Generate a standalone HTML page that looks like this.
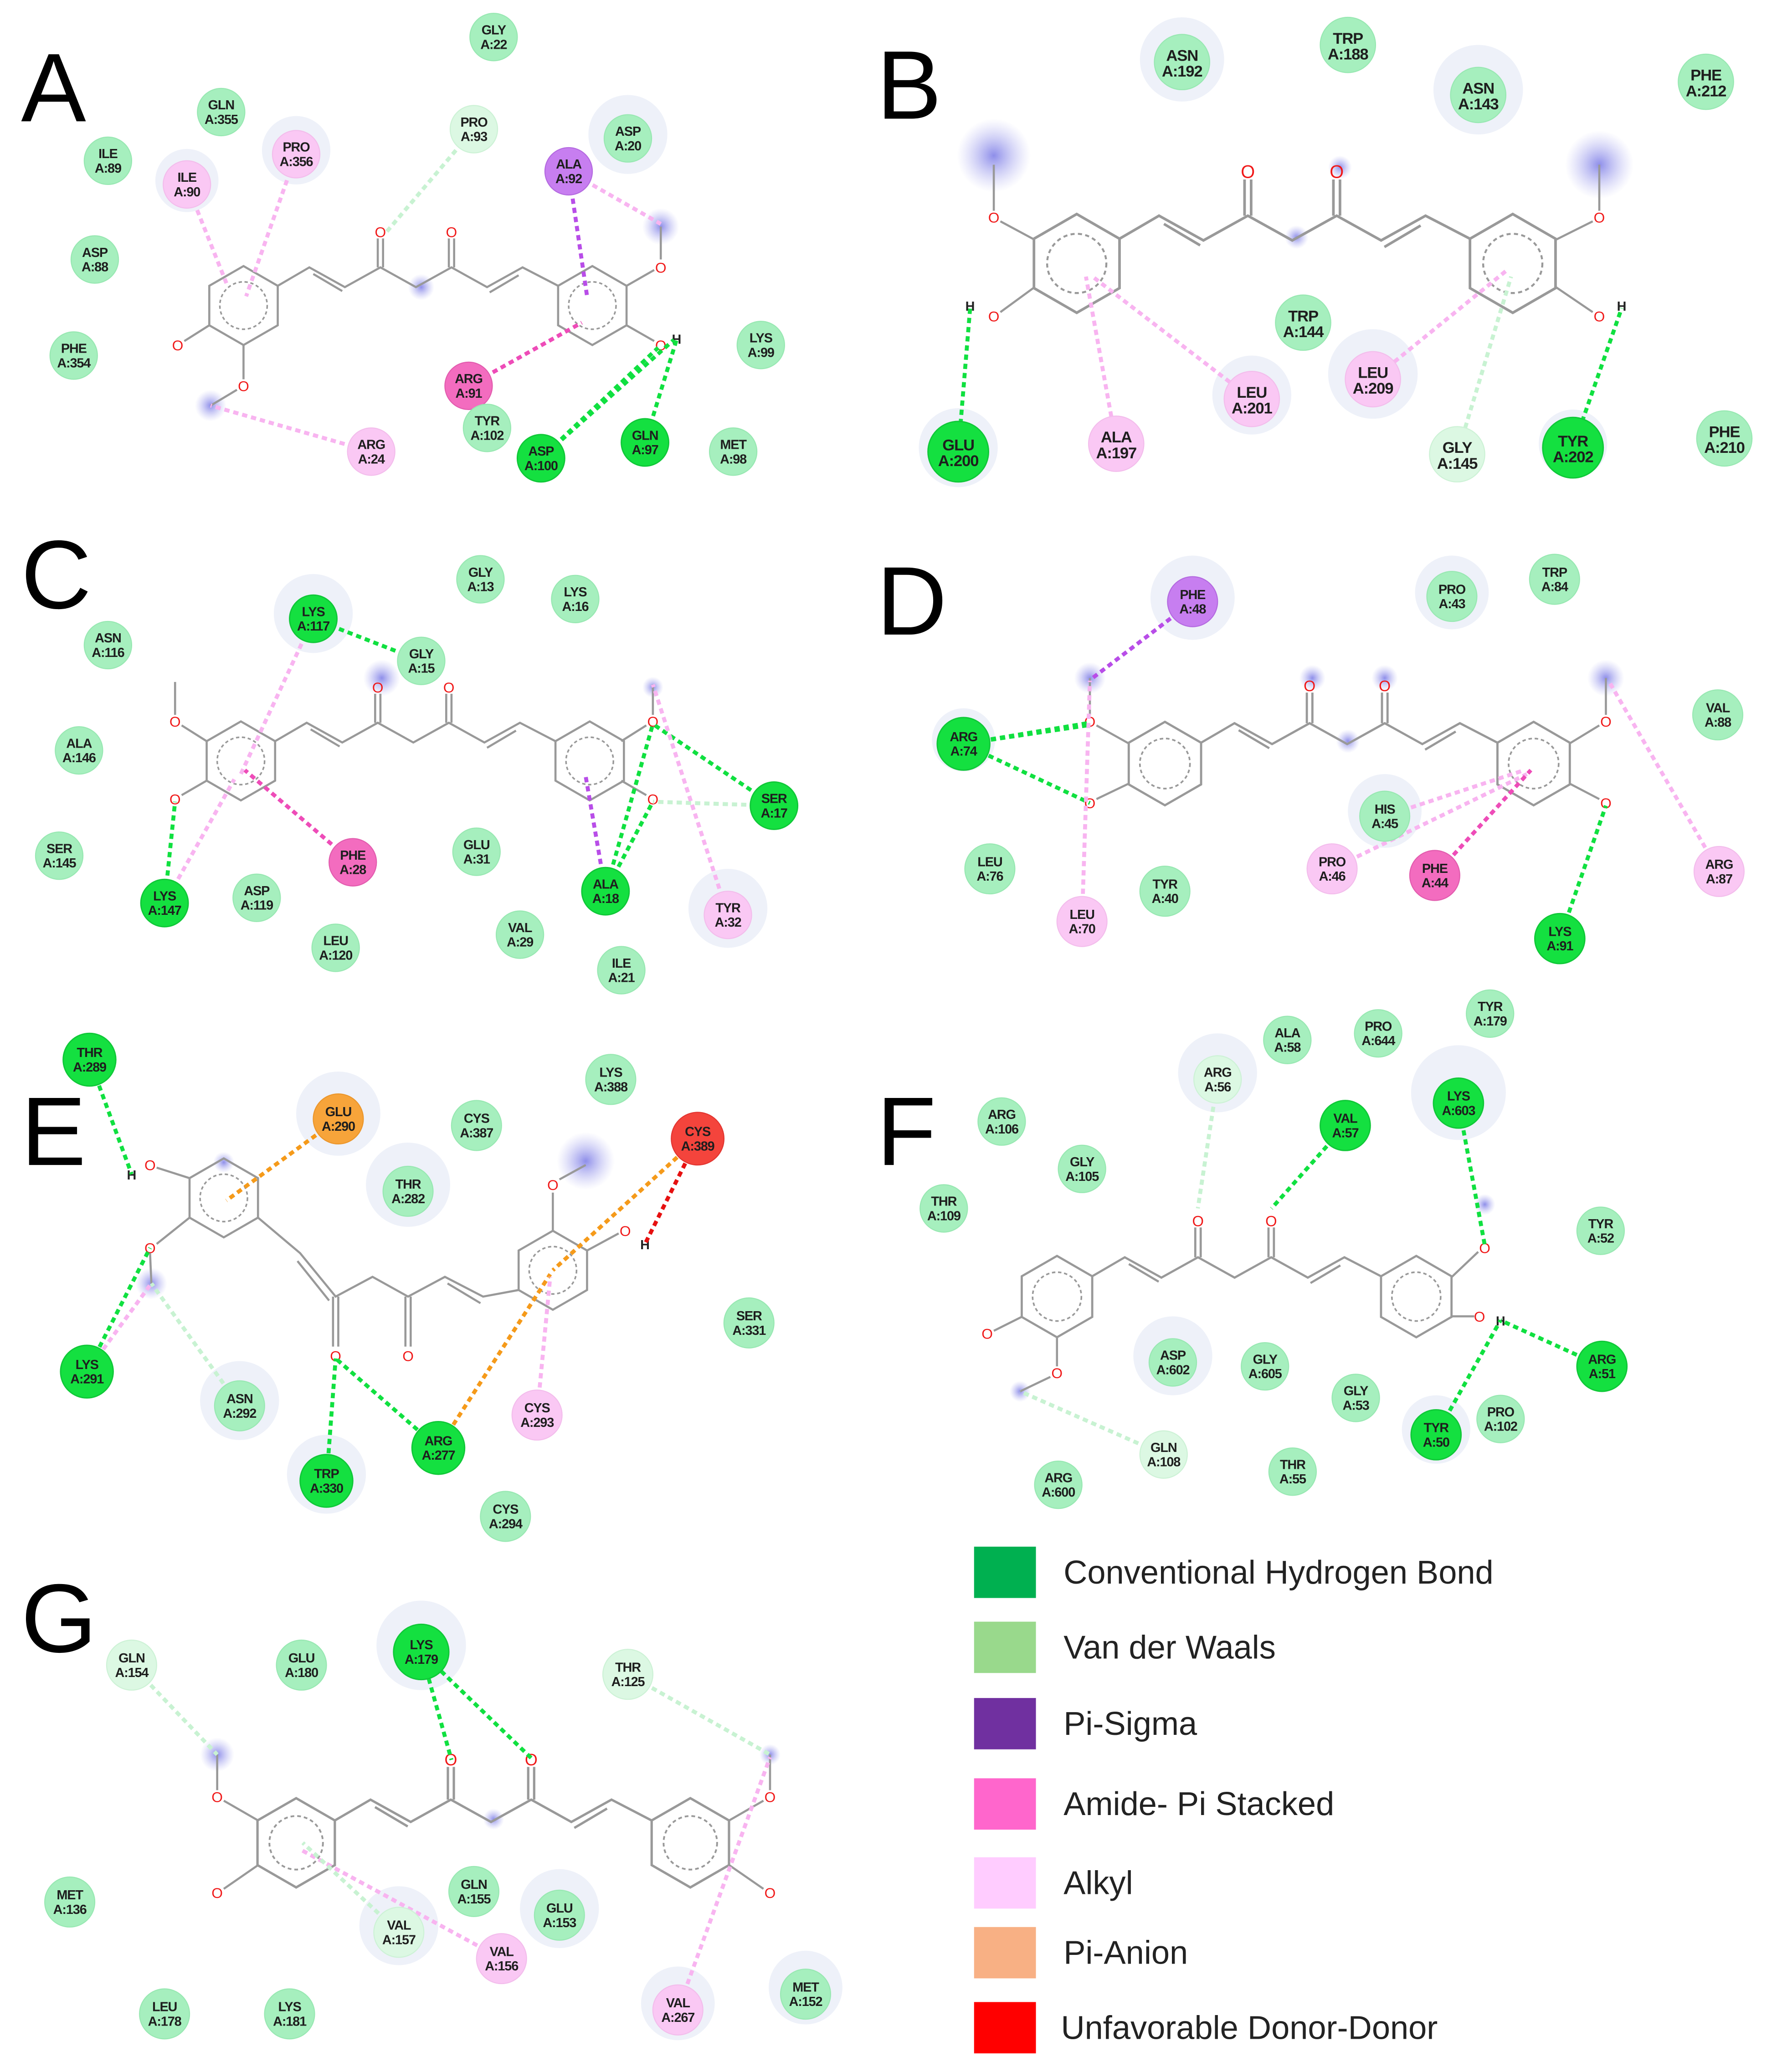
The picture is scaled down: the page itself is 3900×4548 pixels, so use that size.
<!DOCTYPE html>
<html><head><meta charset="utf-8"><style>
html,body{margin:0;padding:0;background:#fff}
svg{display:block}
text{font-family:"Liberation Sans",sans-serif}
.r text{font-size:10px;text-anchor:middle;fill:#1e1e1e;font-weight:bold;letter-spacing:-0.4px}
.r circle{stroke-width:0.8}
.v circle{fill:#a6efbe;stroke:#98e8b2}
.h circle{fill:#14e040;stroke:#10c838;stroke-width:1}
.c circle{fill:#dcf8e3;stroke:#cdf2d6}
.a circle{fill:#fac8f4;stroke:#f3bdec}
.s circle{fill:#c77ef0;stroke:#b46ae0}
.m circle{fill:#f36cbf;stroke:#e25cae}
.o circle{fill:#f7a43a;stroke:#eb962b}
.u circle{fill:#f4443c;stroke:#e23530}
.b{stroke:#999;stroke-width:1.6;fill:none}
.ox{font-size:11px;fill:#f01818;text-anchor:middle}
.hx{font-size:10px;fill:#222;text-anchor:middle;font-weight:bold}
.L{fill:none;stroke-width:3;stroke-dasharray:4 3}
.g{stroke:#10e040}.lg{stroke:#c8f2d2}.pk{stroke:#f8b4f0}.pu{stroke:#b84de8}.mg{stroke:#ee4cb8}.or{stroke:#f59a1a}.rd{stroke:#e61010}
.halo{fill:#eef1f9}
.P{font-size:74px;fill:#000}
.lt{font-size:25px;fill:#222}
</style></head><body>
<svg width="3900" height="4548" viewBox="0 0 1350 1574" xmlns="http://www.w3.org/2000/svg">
<defs>
<radialGradient id="gl"><stop offset="0" stop-color="#7a7ae6" stop-opacity="0.85"/><stop offset="1" stop-color="#b0b0f0" stop-opacity="0"/></radialGradient>
<g id="core">
<polygon class="b" points="0,-30 26,-15 26,15 0,30 -26,15 -26,-15"/>
<circle r="18" fill="none" stroke="#999" stroke-width="1.2" stroke-dasharray="2.5 2"/>
<polyline class="b" points="26,-15 50,-29 77,-14 104,-29 131,-14 158,-29 185,-14 212,-29 239,-15"/>
<line class="b" x1="53" y1="-24" x2="75" y2="-11"/>
<line class="b" x1="187" y1="-10" x2="209" y2="-23"/>
<line class="b" x1="102" y1="-29" x2="102" y2="-51"/><line class="b" x1="106" y1="-29" x2="106" y2="-51"/>
<line class="b" x1="156" y1="-29" x2="156" y2="-51"/><line class="b" x1="160" y1="-29" x2="160" y2="-51"/>
<text class="ox" x="104" y="-52">O</text><text class="ox" x="158" y="-52">O</text>
<polygon class="b" points="265,-30 291,-15 291,15 265,30 239,15 239,-15"/>
<circle cx="265" r="18" fill="none" stroke="#999" stroke-width="1.2" stroke-dasharray="2.5 2"/>
</g>
</defs>
<rect width="1350" height="1574" fill="#fff"/>

<g fill="url(#gl)">
<circle cx="320" cy="218" r="10"/><circle cx="160" cy="308" r="12"/><circle cx="502" cy="172" r="14"/>
<circle cx="755" cy="118" r="28"/><circle cx="985" cy="180" r="9"/><circle cx="1215" cy="125" r="26"/><circle cx="1018" cy="127" r="9"/>
<circle cx="290" cy="515" r="14"/><circle cx="496" cy="522" r="8"/>
<circle cx="828" cy="515" r="12"/><circle cx="997" cy="515" r="10"/><circle cx="1052" cy="515" r="10"/><circle cx="1024" cy="563" r="9"/><circle cx="1220" cy="515" r="14"/>
<circle cx="445" cy="882" r="22"/><circle cx="115" cy="975" r="12"/><circle cx="170" cy="883" r="8"/>
<circle cx="1128" cy="915" r="8"/><circle cx="775" cy="1057" r="8"/>
<circle cx="165" cy="1333" r="13"/><circle cx="375" cy="1382" r="8"/><circle cx="585" cy="1333" r="8"/>
</g>

<g class="halo">
<circle cx="477" cy="102" r="30"/><circle cx="225" cy="114" r="26"/><circle cx="142" cy="137" r="24"/>
<circle cx="898" cy="45" r="32"/><circle cx="1123" cy="68" r="34"/><circle cx="1043" cy="284" r="34"/><circle cx="951" cy="300" r="30"/><circle cx="728" cy="340" r="30"/><circle cx="1195" cy="337" r="26"/>
<circle cx="238" cy="466" r="30"/><circle cx="553" cy="690" r="30"/>
<circle cx="906" cy="454" r="32"/><circle cx="1103" cy="450" r="28"/><circle cx="1052" cy="616" r="28"/><circle cx="732" cy="562" r="24"/>
<circle cx="257" cy="846" r="32"/><circle cx="310" cy="900" r="32"/><circle cx="182" cy="1064" r="30"/><circle cx="248" cy="1120" r="30"/>
<circle cx="925" cy="815" r="30"/><circle cx="1108" cy="830" r="36"/><circle cx="891" cy="1030" r="30"/><circle cx="1091" cy="1086" r="26"/>
<circle cx="320" cy="1250" r="34"/><circle cx="425" cy="1450" r="30"/><circle cx="303" cy="1463" r="30"/><circle cx="612" cy="1510" r="28"/><circle cx="515" cy="1522" r="28"/>
</g>

<use href="#core" transform="translate(185,232)"/>
<use href="#core" transform="translate(818,200) scale(1.25)"/>
<use href="#core" transform="translate(183,578)"/>
<use href="#core" transform="translate(885,580) scale(1.057)"/>
<use href="#core" transform="translate(803,985) scale(1.03)"/>
<use href="#core" transform="translate(225,1400) scale(1.13)"/>

<g class="b">
<line x1="159" y1="247" x2="140" y2="259"/><line x1="185" y1="262" x2="185" y2="288"/><line x1="180" y1="296" x2="160" y2="308"/>
<line x1="476" y1="217" x2="497" y2="205"/><line x1="502" y1="197" x2="502" y2="172"/><line x1="476" y1="247" x2="497" y2="259"/>
<line x1="786" y1="182" x2="760" y2="168"/><line x1="755" y1="160" x2="755" y2="125"/><line x1="786" y1="218" x2="760" y2="237"/>
<line x1="1182" y1="182" x2="1210" y2="168"/><line x1="1215" y1="160" x2="1215" y2="125"/><line x1="1182" y1="218" x2="1210" y2="237"/>
<line x1="157" y1="563" x2="138" y2="551"/><line x1="133" y1="543" x2="133" y2="518"/><line x1="157" y1="593" x2="138" y2="604"/>
<line x1="472" y1="563" x2="491" y2="551"/><line x1="496" y1="543" x2="496" y2="520"/><line x1="472" y1="593" x2="491" y2="604"/>
<line x1="858" y1="565" x2="833" y2="551"/><line x1="828" y1="543" x2="828" y2="515"/><line x1="858" y1="595" x2="833" y2="607"/>
<line x1="1192" y1="565" x2="1215" y2="551"/><line x1="1220" y1="543" x2="1220" y2="515"/><line x1="1192" y1="595" x2="1215" y2="607"/>
<polygon points="170,880 196,895 196,925 170,940 144,925 144,895"/>
<polygon points="420,935 446,950 446,980 420,995 394,980 394,950"/>
<polyline points="196,925 228,952 255,985 283,970 310,985 338,970 367,985 394,980"/>
<line x1="226" y1="958" x2="250" y2="988"/>
<line x1="253" y1="985" x2="253" y2="1023"/><line x1="257" y1="985" x2="257" y2="1023"/>
<line x1="308" y1="985" x2="308" y2="1023"/><line x1="312" y1="985" x2="312" y2="1023"/>
<line x1="340" y1="975" x2="365" y2="990"/>
<line x1="144" y1="895" x2="119" y2="887"/><line x1="144" y1="925" x2="119" y2="945"/><line x1="114" y1="952" x2="115" y2="975"/>
<line x1="420" y1="935" x2="420" y2="906"/><line x1="425" y1="896" x2="445" y2="885"/><line x1="446" y1="950" x2="470" y2="937"/>
<line x1="777" y1="1000" x2="755" y2="1011"/><line x1="803" y1="1015" x2="803" y2="1038"/><line x1="798" y1="1046" x2="775" y2="1057"/>
<line x1="1103" y1="970" x2="1123" y2="951"/><line x1="1103" y1="1000" x2="1120" y2="1000"/>
<line x1="196" y1="1383" x2="170" y2="1368"/><line x1="165" y1="1360" x2="165" y2="1333"/><line x1="196" y1="1417" x2="170" y2="1435"/>
<line x1="554" y1="1383" x2="580" y2="1368"/><line x1="585" y1="1360" x2="585" y2="1333"/><line x1="554" y1="1417" x2="580" y2="1435"/>
</g>
<g fill="none" stroke="#999" stroke-width="1.2" stroke-dasharray="2.5 2"><circle cx="170" cy="910" r="18"/><circle cx="420" cy="965" r="18"/></g>
<g class="ox">
<text x="135" y="266">O</text><text x="185" y="297">O</text><text x="502" y="207">O</text><text x="502" y="266">O</text>
<text x="755" y="169">O</text><text x="755" y="244">O</text><text x="1215" y="169">O</text><text x="1215" y="244">O</text>
<text x="133" y="552">O</text><text x="133" y="611">O</text><text x="496" y="552">O</text><text x="496" y="611">O</text>
<text x="828" y="552">O</text><text x="828" y="614">O</text><text x="1220" y="552">O</text><text x="1220" y="614">O</text>
<text x="114" y="889">O</text><text x="114" y="952">O</text><text x="255" y="1034">O</text><text x="310" y="1034">O</text><text x="420" y="904">O</text><text x="475" y="939">O</text>
<text x="750" y="1017">O</text><text x="803" y="1047">O</text><text x="1128" y="952">O</text><text x="1124" y="1004">O</text>
<text x="165" y="1369">O</text><text x="165" y="1442">O</text><text x="585" y="1369">O</text><text x="585" y="1442">O</text>
</g>
<g class="hx"><text x="514" y="261">H</text><text x="737" y="236">H</text><text x="1232" y="236">H</text><text x="100" y="896">H</text><text x="490" y="949">H</text><text x="1140" y="1007">H</text></g>

<g class="L">
<line class="lg" x1="360" y1="98" x2="292" y2="178"/>
<line class="pk" x1="142" y1="140" x2="172" y2="215"/><line class="pk" x1="225" y1="117" x2="187" y2="225"/>
<line class="pk" x1="282" y1="343" x2="160" y2="308"/><line class="pk" x1="432" y1="130" x2="502" y2="170"/>
<line class="pu" x1="432" y1="130" x2="446" y2="225"/><line class="mg" x1="356" y1="293" x2="442" y2="245"/>
<line class="g" x1="411" y1="348" x2="512" y2="258"/><line class="g" x1="490" y1="336" x2="514" y2="258"/><line class="g" x1="411" y1="348" x2="500" y2="264"/>
<line class="g" x1="728" y1="343" x2="737" y2="234"/><line class="g" x1="1195" y1="340" x2="1232" y2="234"/>
<line class="pk" x1="848" y1="337" x2="825" y2="210"/><line class="pk" x1="951" y1="303" x2="830" y2="210"/>
<line class="pk" x1="1043" y1="288" x2="1145" y2="205"/><line class="lg" x1="1107" y1="345" x2="1148" y2="210"/>
<line class="g" x1="238" y1="470" x2="320" y2="502"/><line class="pk" x1="238" y1="470" x2="182" y2="590"/>
<line class="g" x1="125" y1="686" x2="133" y2="609"/><line class="pk" x1="125" y1="686" x2="178" y2="592"/>
<line class="mg" x1="268" y1="655" x2="186" y2="585"/><line class="pu" x1="460" y1="677" x2="445" y2="590"/>
<line class="g" x1="460" y1="677" x2="496" y2="550"/><line class="g" x1="460" y1="677" x2="496" y2="609"/>
<line class="g" x1="588" y1="612" x2="496" y2="550"/><line class="lg" x1="588" y1="612" x2="496" y2="609"/>
<line class="pk" x1="553" y1="695" x2="496" y2="520"/>
<line class="pu" x1="906" y1="457" x2="830" y2="515"/>
<line class="g" x1="732" y1="565" x2="828" y2="549"/><line class="g" x1="732" y1="565" x2="828" y2="610"/><line class="g" x1="732" y1="565" x2="826" y2="551"/>
<line class="pk" x1="822" y1="700" x2="828" y2="517"/>
<line class="pk" x1="1012" y1="660" x2="1160" y2="588"/><line class="mg" x1="1090" y1="665" x2="1163" y2="585"/><line class="pk" x1="1052" y1="620" x2="1158" y2="585"/>
<line class="pk" x1="1306" y1="662" x2="1222" y2="517"/><line class="g" x1="1185" y1="713" x2="1220" y2="612"/>
<line class="g" x1="68" y1="805" x2="100" y2="892"/><line class="or" x1="257" y1="850" x2="172" y2="912"/>
<line class="g" x1="66" y1="1042" x2="114" y2="948"/><line class="pk" x1="66" y1="1042" x2="115" y2="975"/>
<line class="lg" x1="182" y1="1068" x2="115" y2="975"/>
<line class="rd" x1="530" y1="865" x2="490" y2="945"/><line class="or" x1="530" y1="865" x2="420" y2="965"/>
<line class="or" x1="333" y1="1100" x2="418" y2="968"/>
<line class="g" x1="248" y1="1125" x2="255" y2="1032"/><line class="g" x1="333" y1="1100" x2="255" y2="1032"/>
<line class="pk" x1="408" y1="1075" x2="418" y2="970"/>
<line class="lg" x1="925" y1="820" x2="910" y2="918"/><line class="g" x1="1022" y1="855" x2="966" y2="918"/>
<line class="g" x1="1108" y1="838" x2="1128" y2="946"/>
<line class="g" x1="1217" y1="1038" x2="1140" y2="1003"/><line class="g" x1="1091" y1="1090" x2="1140" y2="1003"/>
<line class="lg" x1="884" y1="1105" x2="775" y2="1057"/>
<line class="lg" x1="100" y1="1265" x2="165" y2="1333"/>
<line class="g" x1="320" y1="1255" x2="343" y2="1337"/><line class="g" x1="320" y1="1255" x2="405" y2="1337"/>
<line class="lg" x1="477" y1="1272" x2="585" y2="1333"/><line class="pk" x1="515" y1="1527" x2="585" y2="1335"/>
<line class="pk" x1="381" y1="1488" x2="228" y2="1405"/><line class="lg" x1="303" y1="1468" x2="230" y2="1400"/>
</g>

<g class="r v" transform="translate(375,28)"><circle r="18"/><text y="-2">GLY</text><text y="9">A:22</text></g>
<g class="r v" transform="translate(168,85)"><circle r="18"/><text y="-2">GLN</text><text y="9">A:355</text></g>
<g class="r c" transform="translate(360,98)"><circle r="18"/><text y="-2">PRO</text><text y="9">A:93</text></g>
<g class="r v" transform="translate(477,105)"><circle r="18"/><text y="-2">ASP</text><text y="9">A:20</text></g>
<g class="r v" transform="translate(82,122)"><circle r="18"/><text y="-2">ILE</text><text y="9">A:89</text></g>
<g class="r a" transform="translate(225,117)"><circle r="18"/><text y="-2">PRO</text><text y="9">A:356</text></g>
<g class="r a" transform="translate(142,140)"><circle r="18"/><text y="-2">ILE</text><text y="9">A:90</text></g>
<g class="r s" transform="translate(432,130)"><circle r="18"/><text y="-2">ALA</text><text y="9">A:92</text></g>
<g class="r v" transform="translate(72,197)"><circle r="18"/><text y="-2">ASP</text><text y="9">A:88</text></g>
<g class="r v" transform="translate(56,270)"><circle r="18"/><text y="-2">PHE</text><text y="9">A:354</text></g>
<g class="r v" transform="translate(578,262)"><circle r="18"/><text y="-2">LYS</text><text y="9">A:99</text></g>
<g class="r m" transform="translate(356,293)"><circle r="18"/><text y="-2">ARG</text><text y="9">A:91</text></g>
<g class="r v" transform="translate(370,325)"><circle r="18"/><text y="-2">TYR</text><text y="9">A:102</text></g>
<g class="r a" transform="translate(282,343)"><circle r="18"/><text y="-2">ARG</text><text y="9">A:24</text></g>
<g class="r h" transform="translate(411,348)"><circle r="18"/><text y="-2">ASP</text><text y="9">A:100</text></g>
<g class="r h" transform="translate(490,336)"><circle r="18"/><text y="-2">GLN</text><text y="9">A:97</text></g>
<g class="r v" transform="translate(557,343)"><circle r="18"/><text y="-2">MET</text><text y="9">A:98</text></g>

<g class="r v" transform="translate(898,47)"><circle r="21"/><text y="-1" style="font-size:12px">ASN</text><text y="11" style="font-size:12px">A:192</text></g>
<g class="r v" transform="translate(1024,34)"><circle r="21"/><text y="-1" style="font-size:12px">TRP</text><text y="11" style="font-size:12px">A:188</text></g>
<g class="r v" transform="translate(1123,72)"><circle r="21"/><text y="-1" style="font-size:12px">ASN</text><text y="11" style="font-size:12px">A:143</text></g>
<g class="r v" transform="translate(1296,62)"><circle r="21"/><text y="-1" style="font-size:12px">PHE</text><text y="11" style="font-size:12px">A:212</text></g>
<g class="r v" transform="translate(990,245)"><circle r="21"/><text y="-1" style="font-size:12px">TRP</text><text y="11" style="font-size:12px">A:144</text></g>
<g class="r a" transform="translate(1043,288)"><circle r="21"/><text y="-1" style="font-size:12px">LEU</text><text y="11" style="font-size:12px">A:209</text></g>
<g class="r a" transform="translate(951,303)"><circle r="21"/><text y="-1" style="font-size:12px">LEU</text><text y="11" style="font-size:12px">A:201</text></g>
<g class="r a" transform="translate(848,337)"><circle r="21"/><text y="-1" style="font-size:12px">ALA</text><text y="11" style="font-size:12px">A:197</text></g>
<g class="r h" transform="translate(728,343)"><circle r="23"/><text y="-1" style="font-size:12px">GLU</text><text y="11" style="font-size:12px">A:200</text></g>
<g class="r c" transform="translate(1107,345)"><circle r="21"/><text y="-1" style="font-size:12px">GLY</text><text y="11" style="font-size:12px">A:145</text></g>
<g class="r h" transform="translate(1195,340)"><circle r="23"/><text y="-1" style="font-size:12px">TYR</text><text y="11" style="font-size:12px">A:202</text></g>
<g class="r v" transform="translate(1310,333)"><circle r="21"/><text y="-1" style="font-size:12px">PHE</text><text y="11" style="font-size:12px">A:210</text></g>

<g class="r v" transform="translate(365,440)"><circle r="18"/><text y="-2">GLY</text><text y="9">A:13</text></g>
<g class="r h" transform="translate(238,470)"><circle r="18"/><text y="-2">LYS</text><text y="9">A:117</text></g>
<g class="r v" transform="translate(437,455)"><circle r="18"/><text y="-2">LYS</text><text y="9">A:16</text></g>
<g class="r v" transform="translate(82,490)"><circle r="18"/><text y="-2">ASN</text><text y="9">A:116</text></g>
<g class="r v" transform="translate(320,502)"><circle r="18"/><text y="-2">GLY</text><text y="9">A:15</text></g>
<g class="r v" transform="translate(60,570)"><circle r="18"/><text y="-2">ALA</text><text y="9">A:146</text></g>
<g class="r h" transform="translate(588,612)"><circle r="18"/><text y="-2">SER</text><text y="9">A:17</text></g>
<g class="r v" transform="translate(45,650)"><circle r="18"/><text y="-2">SER</text><text y="9">A:145</text></g>
<g class="r v" transform="translate(362,647)"><circle r="18"/><text y="-2">GLU</text><text y="9">A:31</text></g>
<g class="r m" transform="translate(268,655)"><circle r="18"/><text y="-2">PHE</text><text y="9">A:28</text></g>
<g class="r v" transform="translate(195,682)"><circle r="18"/><text y="-2">ASP</text><text y="9">A:119</text></g>
<g class="r h" transform="translate(125,686)"><circle r="18"/><text y="-2">LYS</text><text y="9">A:147</text></g>
<g class="r h" transform="translate(460,677)"><circle r="18"/><text y="-2">ALA</text><text y="9">A:18</text></g>
<g class="r a" transform="translate(553,695)"><circle r="18"/><text y="-2">TYR</text><text y="9">A:32</text></g>
<g class="r v" transform="translate(395,710)"><circle r="18"/><text y="-2">VAL</text><text y="9">A:29</text></g>
<g class="r v" transform="translate(255,720)"><circle r="18"/><text y="-2">LEU</text><text y="9">A:120</text></g>
<g class="r v" transform="translate(472,737)"><circle r="18"/><text y="-2">ILE</text><text y="9">A:21</text></g>

<g class="r s" transform="translate(906,457)"><circle r="19"/><text y="-2">PHE</text><text y="9">A:48</text></g>
<g class="r v" transform="translate(1103,453)"><circle r="19"/><text y="-2">PRO</text><text y="9">A:43</text></g>
<g class="r v" transform="translate(1181,440)"><circle r="19"/><text y="-2">TRP</text><text y="9">A:84</text></g>
<g class="r v" transform="translate(1305,543)"><circle r="19"/><text y="-2">VAL</text><text y="9">A:88</text></g>
<g class="r h" transform="translate(732,565)"><circle r="20"/><text y="-2">ARG</text><text y="9">A:74</text></g>
<g class="r v" transform="translate(1052,620)"><circle r="19"/><text y="-2">HIS</text><text y="9">A:45</text></g>
<g class="r v" transform="translate(752,660)"><circle r="19"/><text y="-2">LEU</text><text y="9">A:76</text></g>
<g class="r a" transform="translate(1012,660)"><circle r="19"/><text y="-2">PRO</text><text y="9">A:46</text></g>
<g class="r m" transform="translate(1090,665)"><circle r="19"/><text y="-2">PHE</text><text y="9">A:44</text></g>
<g class="r v" transform="translate(885,677)"><circle r="19"/><text y="-2">TYR</text><text y="9">A:40</text></g>
<g class="r a" transform="translate(1306,662)"><circle r="19"/><text y="-2">ARG</text><text y="9">A:87</text></g>
<g class="r a" transform="translate(822,700)"><circle r="19"/><text y="-2">LEU</text><text y="9">A:70</text></g>
<g class="r h" transform="translate(1185,713)"><circle r="19"/><text y="-2">LYS</text><text y="9">A:91</text></g>

<g class="r h" transform="translate(68,805)"><circle r="20"/><text y="-2">THR</text><text y="9">A:289</text></g>
<g class="r o" transform="translate(257,850)"><circle r="19"/><text y="-2">GLU</text><text y="9">A:290</text></g>
<g class="r v" transform="translate(362,855)"><circle r="19"/><text y="-2">CYS</text><text y="9">A:387</text></g>
<g class="r v" transform="translate(464,820)"><circle r="19"/><text y="-2">LYS</text><text y="9">A:388</text></g>
<g class="r u" transform="translate(530,865)"><circle r="20"/><text y="-2">CYS</text><text y="9">A:389</text></g>
<g class="r v" transform="translate(310,905)"><circle r="19"/><text y="-2">THR</text><text y="9">A:282</text></g>
<g class="r v" transform="translate(569,1005)"><circle r="19"/><text y="-2">SER</text><text y="9">A:331</text></g>
<g class="r h" transform="translate(66,1042)"><circle r="20"/><text y="-2">LYS</text><text y="9">A:291</text></g>
<g class="r v" transform="translate(182,1068)"><circle r="19"/><text y="-2">ASN</text><text y="9">A:292</text></g>
<g class="r a" transform="translate(408,1075)"><circle r="19"/><text y="-2">CYS</text><text y="9">A:293</text></g>
<g class="r h" transform="translate(333,1100)"><circle r="20"/><text y="-2">ARG</text><text y="9">A:277</text></g>
<g class="r h" transform="translate(248,1125)"><circle r="20"/><text y="-2">TRP</text><text y="9">A:330</text></g>
<g class="r v" transform="translate(384,1152)"><circle r="19"/><text y="-2">CYS</text><text y="9">A:294</text></g>

<g class="r v" transform="translate(978,790)"><circle r="18"/><text y="-2">ALA</text><text y="9">A:58</text></g>
<g class="r v" transform="translate(1047,785)"><circle r="18"/><text y="-2">PRO</text><text y="9">A:644</text></g>
<g class="r v" transform="translate(1132,770)"><circle r="18"/><text y="-2">TYR</text><text y="9">A:179</text></g>
<g class="r c" transform="translate(925,820)"><circle r="18"/><text y="-2">ARG</text><text y="9">A:56</text></g>
<g class="r h" transform="translate(1108,838)"><circle r="19"/><text y="-2">LYS</text><text y="9">A:603</text></g>
<g class="r v" transform="translate(761,852)"><circle r="18"/><text y="-2">ARG</text><text y="9">A:106</text></g>
<g class="r h" transform="translate(1022,855)"><circle r="19"/><text y="-2">VAL</text><text y="9">A:57</text></g>
<g class="r v" transform="translate(822,888)"><circle r="18"/><text y="-2">GLY</text><text y="9">A:105</text></g>
<g class="r v" transform="translate(717,918)"><circle r="18"/><text y="-2">THR</text><text y="9">A:109</text></g>
<g class="r v" transform="translate(1216,935)"><circle r="18"/><text y="-2">TYR</text><text y="9">A:52</text></g>
<g class="r v" transform="translate(891,1035)"><circle r="18"/><text y="-2">ASP</text><text y="9">A:602</text></g>
<g class="r v" transform="translate(961,1038)"><circle r="18"/><text y="-2">GLY</text><text y="9">A:605</text></g>
<g class="r h" transform="translate(1217,1038)"><circle r="19"/><text y="-2">ARG</text><text y="9">A:51</text></g>
<g class="r v" transform="translate(1030,1062)"><circle r="18"/><text y="-2">GLY</text><text y="9">A:53</text></g>
<g class="r v" transform="translate(1140,1078)"><circle r="18"/><text y="-2">PRO</text><text y="9">A:102</text></g>
<g class="r c" transform="translate(884,1105)"><circle r="18"/><text y="-2">GLN</text><text y="9">A:108</text></g>
<g class="r h" transform="translate(1091,1090)"><circle r="19"/><text y="-2">TYR</text><text y="9">A:50</text></g>
<g class="r v" transform="translate(982,1118)"><circle r="18"/><text y="-2">THR</text><text y="9">A:55</text></g>
<g class="r v" transform="translate(804,1128)"><circle r="18"/><text y="-2">ARG</text><text y="9">A:600</text></g>

<g class="r c" transform="translate(100,1265)"><circle r="19"/><text y="-2">GLN</text><text y="9">A:154</text></g>
<g class="r v" transform="translate(229,1265)"><circle r="19"/><text y="-2">GLU</text><text y="9">A:180</text></g>
<g class="r h" transform="translate(320,1255)"><circle r="21"/><text y="-2">LYS</text><text y="9">A:179</text></g>
<g class="r c" transform="translate(477,1272)"><circle r="19"/><text y="-2">THR</text><text y="9">A:125</text></g>
<g class="r v" transform="translate(53,1445)"><circle r="19"/><text y="-2">MET</text><text y="9">A:136</text></g>
<g class="r v" transform="translate(360,1437)"><circle r="19"/><text y="-2">GLN</text><text y="9">A:155</text></g>
<g class="r v" transform="translate(425,1455)"><circle r="19"/><text y="-2">GLU</text><text y="9">A:153</text></g>
<g class="r c" transform="translate(303,1468)"><circle r="19"/><text y="-2">VAL</text><text y="9">A:157</text></g>
<g class="r a" transform="translate(381,1488)"><circle r="19"/><text y="-2">VAL</text><text y="9">A:156</text></g>
<g class="r v" transform="translate(612,1515)"><circle r="19"/><text y="-2">MET</text><text y="9">A:152</text></g>
<g class="r v" transform="translate(125,1530)"><circle r="19"/><text y="-2">LEU</text><text y="9">A:178</text></g>
<g class="r v" transform="translate(220,1530)"><circle r="19"/><text y="-2">LYS</text><text y="9">A:181</text></g>
<g class="r a" transform="translate(515,1527)"><circle r="19"/><text y="-2">VAL</text><text y="9">A:267</text></g>

<text class="P" x="16" y="92">A</text>
<text class="P" x="666" y="90">B</text>
<text class="P" x="16" y="462">C</text>
<text class="P" x="666" y="482">D</text>
<text class="P" x="16" y="885">E</text>
<text class="P" x="666" y="885">F</text>
<text class="P" x="16" y="1255">G</text>

<rect x="740" y="1175" width="47" height="39" fill="#00b050"/>
<rect x="740" y="1232" width="47" height="39" fill="#99d98c"/>
<rect x="740" y="1290" width="47" height="39" fill="#7030a0"/>
<rect x="740" y="1351" width="47" height="39" fill="#ff66cc"/>
<rect x="740" y="1411" width="47" height="39" fill="#ffccff"/>
<rect x="740" y="1464" width="47" height="39" fill="#f8b084"/>
<rect x="740" y="1521" width="47" height="39" fill="#ff0000"/>
<text class="lt" x="808" y="1203">Conventional Hydrogen Bond</text>
<text class="lt" x="808" y="1260">Van der Waals</text>
<text class="lt" x="808" y="1318">Pi-Sigma</text>
<text class="lt" x="808" y="1379">Amide- Pi Stacked</text>
<text class="lt" x="808" y="1439">Alkyl</text>
<text class="lt" x="808" y="1492">Pi-Anion</text>
<text class="lt" x="806" y="1549">Unfavorable Donor-Donor</text>
</svg>
</body></html>
